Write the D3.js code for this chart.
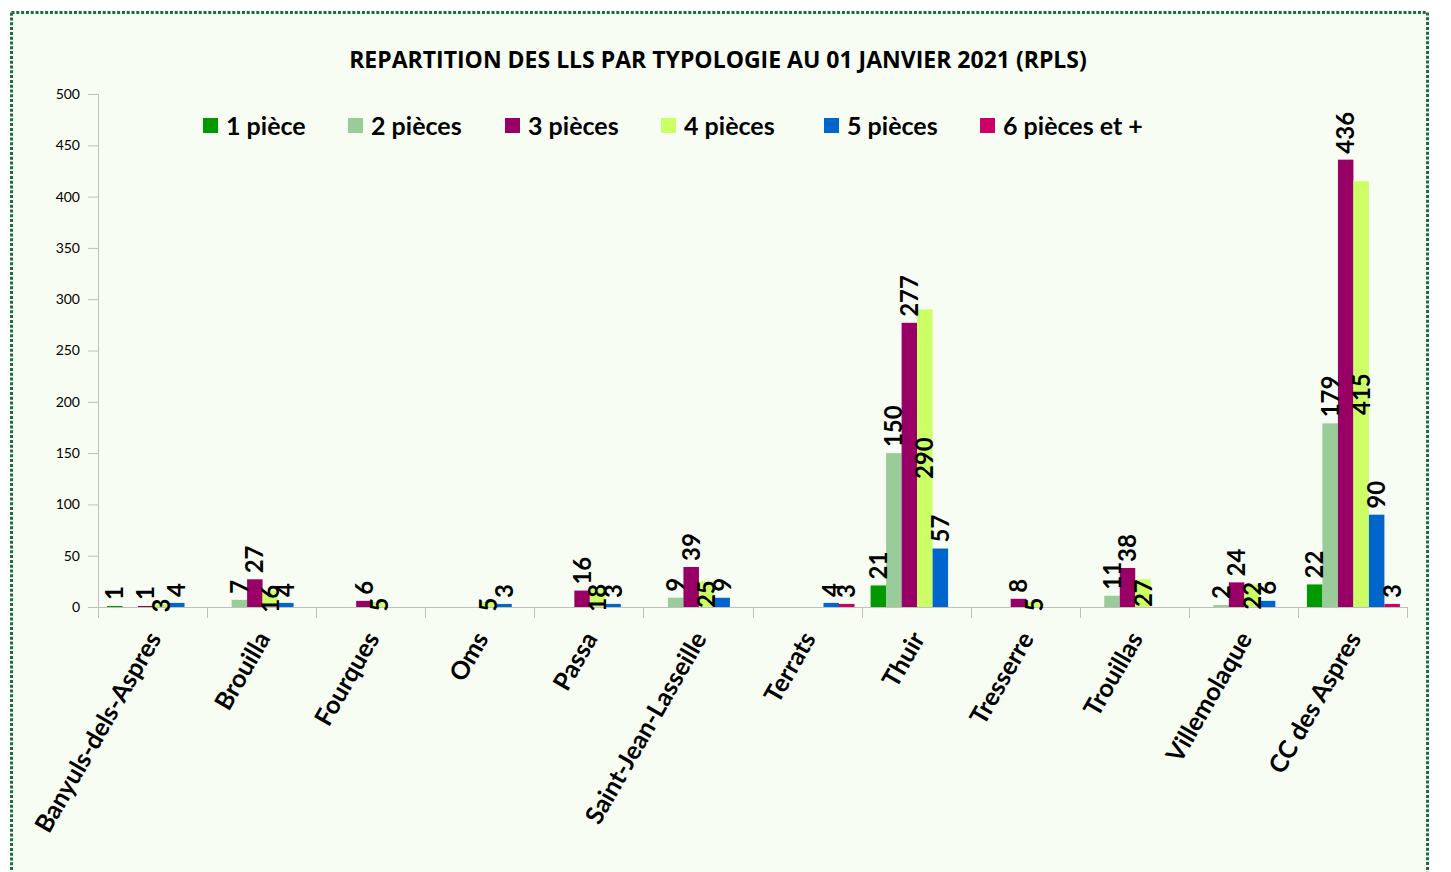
<!DOCTYPE html>
<html>
<head>
<meta charset="utf-8">
<script src="https://cdn.jsdelivr.net/npm/d3@7"></script>
<style>
    body { margin: 0; background: #ffffff; }
    svg { display: block; }
</style>
</head>
<body>
<div id="wrapper"></div>
<script>
const communes = ["Banyuls-dels-Aspres", "Brouilla", "Fourques", "Oms", "Passa", "Saint-Jean-Lasseille",
    "Terrats", "Thuir", "Tresserre", "Trouillas", "Villemolaque", "CC des Aspres"];
const seriesNames = ["1 pièce", "2 pièces", "3 pièces", "4 pièces", "5 pièces", "6 pièces et +"];
const seriesColors = ["#009900", "#99cc99", "#990066", "#ccff66", "#0066cc", "#cc0066"];

const piece1 = [1, null, null, null, null, null, null, 21, null, null, null, 22];
const pieces2 = [null, 7, null, null, null, 9, null, 150, null, 11, 2, 179];
const pieces3 = [1, 27, 6, null, 16, 39, null, 277, 8, 38, 24, 436];
const pieces4 = [3, 16, 5, 5, 18, 25, null, 290, 5, 27, 22, 415];
const pieces5 = [4, 4, null, 3, 3, 9, 4, 57, null, null, 6, 90];
const pieces6 = [null, null, null, null, null, null, 3, null, null, null, null, 3];
const yTicks = [0, 50, 100, 150, 200, 250, 300, 350, 400, 450, 500];

const allSeries = [piece1, pieces2, pieces3, pieces4, pieces5, pieces6];

const dimensions = {
    width: 1451,
    height: 872,
    margin: { top: 94, right: 44, bottom: 265, left: 98 }
};
dimensions.boundedWidth = dimensions.width - dimensions.margin.left - dimensions.margin.right;
dimensions.boundedHeight = dimensions.height - dimensions.margin.top - dimensions.margin.bottom;

const wrapper = d3.select("#wrapper")
    .append("svg")
    .attr("width", dimensions.width)
    .attr("height", dimensions.height);

// panel + dotted border
wrapper.append("rect")
    .attr("x", 11.5)
    .attr("y", 12.5)
    .attr("width", 1416)
    .attr("height", 880)
    .attr("fill", "#f8fdf4")
    .attr("stroke", "#17703c")
    .attr("stroke-width", 3)
    .attr("stroke-dasharray", "3,1.8");

wrapper.append("text")
    .attr("x", 718)
    .attr("y", 68)
    .attr("text-anchor", "middle")
    .style("font-family", "'Open Sans', Lato, sans-serif")
    .style("font-weight", "bold")
    .style("font-size", "23px")
    .text("REPARTITION DES LLS PAR TYPOLOGIE AU 01 JANVIER 2021 (RPLS)");

const bounds = wrapper.append("g")
    .attr("transform", `translate(${dimensions.margin.left},${dimensions.margin.top})`);

const x0 = d3.scaleBand()
    .domain(communes)
    .range([0, dimensions.boundedWidth]);

const x1 = d3.scaleBand()
    .domain(seriesNames)
    .range([0, x0.bandwidth()])
    .paddingOuter(0.52)
    .align(0.56);

const yScale = d3.scaleLinear()
    .domain([0, 500])
    .range([dimensions.boundedHeight, 0]);

// y axis
const yAxis = d3.axisLeft(yScale).tickValues(yTicks).tickSize(10).tickPadding(8);
const yAxisG = bounds.append("g").call(yAxis);
yAxisG.select(".domain").remove();
yAxisG.selectAll("line").attr("stroke", "#bfbfbf");
yAxisG.selectAll("text")
    .style("font-family", "Lato, 'Open Sans', sans-serif")
    .style("font-size", "14px")
    .attr("fill", "#000");
bounds.append("line")
    .attr("x1", 0.5).attr("x2", 0.5)
    .attr("y1", 0).attr("y2", dimensions.boundedHeight + 11)
    .attr("stroke", "#bfbfbf");

// x axis baseline and category ticks
bounds.append("line")
    .attr("x1", 0).attr("x2", dimensions.boundedWidth)
    .attr("y1", dimensions.boundedHeight + 0.5).attr("y2", dimensions.boundedHeight + 0.5)
    .attr("stroke", "#bfbfbf");
const boundaries = communes.map(c => x0(c)).concat([dimensions.boundedWidth]);
bounds.selectAll(".xtick")
    .data(boundaries)
    .join("line")
    .attr("class", "xtick")
    .attr("x1", d => Math.round(d) + 0.5).attr("x2", d => Math.round(d) + 0.5)
    .attr("y1", dimensions.boundedHeight).attr("y2", dimensions.boundedHeight + 11)
    .attr("stroke", "#bfbfbf");

// bars
const cells = [];
allSeries.forEach((values, si) => {
    values.forEach((v, ci) => {
        if (v !== null) cells.push({ commune: communes[ci], serie: seriesNames[si], si: si, value: v });
    });
});

bounds.selectAll(".bar")
    .data(cells)
    .join("rect")
    .attr("class", "bar")
    .attr("x", d => x0(d.commune) + x1(d.serie))
    .attr("width", x1.bandwidth())
    .attr("y", d => yScale(d.value))
    .attr("height", d => dimensions.boundedHeight - yScale(d.value))
    .attr("fill", d => seriesColors[d.si]);

// data labels (4 pièces centred, others outside end)
bounds.selectAll(".label")
    .data(cells)
    .join("text")
    .attr("class", "label")
    .attr("transform", d => {
        const cx = x0(d.commune) + x1(d.serie) + x1.bandwidth() / 2;
        const cy = d.si === 3
            ? (yScale(d.value) + dimensions.boundedHeight) / 2
            : yScale(d.value) - 6;
        return `translate(${cx},${cy}) rotate(-90)`;
    })
    .attr("dy", "0.36em")
    .attr("text-anchor", d => d.si === 3 ? "middle" : "start")
    .style("font-family", "Lato, 'Open Sans', sans-serif")
    .style("font-weight", "bold")
    .style("font-size", "24px")
    .attr("fill", "#000")
    .text(d => d.value);

// category labels
bounds.selectAll(".cat")
    .data(communes)
    .join("text")
    .attr("class", "cat")
    .attr("transform", d => `translate(${x0(d) + x0.bandwidth() / 2 + 2},${dimensions.boundedHeight + 27}) rotate(-60)`)
    .attr("dy", "0.35em")
    .attr("text-anchor", "end")
    .style("font-family", "Lato, 'Open Sans', sans-serif")
    .style("font-weight", "bold")
    .style("font-size", "25px")
    .attr("fill", "#000")
    .text(d => d);

// legend
const legendX = [203, 348, 505, 661, 824, 980];
const legend = wrapper.selectAll(".legend")
    .data(seriesNames)
    .join("g")
    .attr("class", "legend")
    .attr("transform", (d, i) => `translate(${legendX[i]},126)`);
legend.append("rect")
    .attr("x", 0).attr("y", -8)
    .attr("width", 15).attr("height", 15)
    .attr("fill", (d, i) => seriesColors[i]);
legend.append("text")
    .attr("x", 23)
    .attr("dy", "0.35em")
    .style("font-family", "Lato, 'Open Sans', sans-serif")
    .style("font-weight", "bold")
    .style("font-size", "25px")
    .attr("fill", "#000")
    .text(d => d);
</script>
</body>
</html>
